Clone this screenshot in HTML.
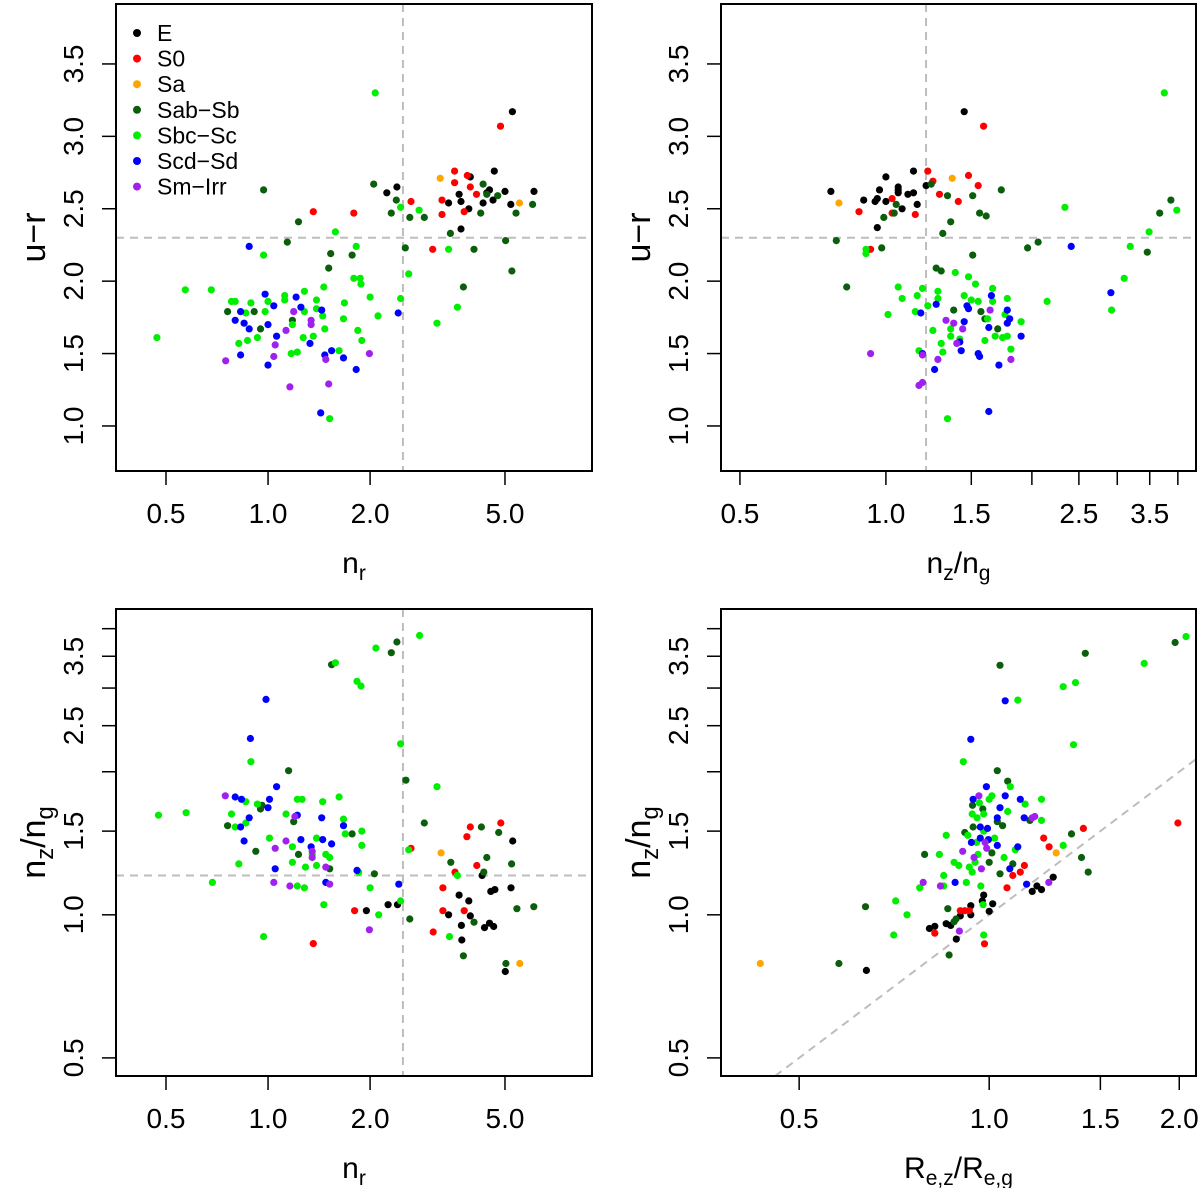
<!DOCTYPE html>
<html><head><meta charset="utf-8"><style>
html,body{margin:0;padding:0;background:#fff;}
svg{display:block;font-family:"Liberation Sans",Arial,sans-serif;}
</style></head><body>
<svg id="fig" width="1200" height="1188" viewBox="0 0 1200 1188" xmlns="http://www.w3.org/2000/svg"></svg>
<script>
// ---------- data (class arrays of [x, y]) ----------
// Panel 1: n_r vs u-r
const p1_E=[[5.26,3.17],[4.65,2.76],[3.95,2.72],[2.24,2.61],[2.40,2.65],[3.66,2.60],[3.41,2.54],[3.71,2.55],[3.91,2.50],[3.71,2.36],[4.50,2.63],[4.31,2.54],[4.61,2.56],[5.0,2.62],[5.20,2.53],[6.09,2.62],[4.42,2.61]];
const p1_S0=[[4.85,3.07],[3.55,2.76],[3.87,2.73],[3.55,2.68],[3.95,2.65],[4.12,2.60],[3.26,2.56],[3.26,2.46],[2.64,2.55],[3.79,2.48],[3.06,2.22],[1.36,2.48],[1.79,2.47]];
const p1_Sa=[[3.22,2.71],[5.52,2.54]];
const p1_Sab=[[0.97,2.63],[2.05,2.67],[2.39,2.56],[2.31,2.47],[2.62,2.44],[2.89,2.44],[2.54,2.23],[3.45,2.33],[4.05,2.22],[3.77,1.96],[5.02,2.28],[5.24,2.07],[4.31,2.67],[4.24,2.47],[4.42,2.60],[4.76,2.59],[5.39,2.47],[6.03,2.53],[1.23,2.41],[1.14,2.27],[1.53,2.19],[1.51,2.09],[1.77,2.18],[0.76,1.79],[0.91,1.79],[0.95,1.67],[1.18,1.73]];
const p1_Sbc=[[2.07,3.30],[2.46,2.51],[2.79,2.49],[1.58,2.34],[1.82,2.24],[0.97,2.18],[3.41,2.22],[2.60,2.05],[1.79,2.02],[1.87,2.02],[1.88,1.98],[1.46,1.96],[1.28,1.93],[1.12,1.90],[0.57,1.94],[0.68,1.94],[0.78,1.86],[0.80,1.86],[0.89,1.85],[1.0,1.86],[1.12,1.87],[1.39,1.87],[1.68,1.85],[2.0,1.89],[2.46,1.88],[0.86,1.78],[0.98,1.79],[1.28,1.79],[1.39,1.81],[1.45,1.76],[1.18,1.70],[1.67,1.74],[2.11,1.76],[3.15,1.71],[3.62,1.82],[0.47,1.61],[1.47,1.67],[1.84,1.66],[0.87,1.59],[0.82,1.57],[0.93,1.61],[1.27,1.61],[1.36,1.62],[1.89,1.59],[1.17,1.50],[1.22,1.51],[1.62,1.52],[1.52,1.05]];
const p1_Scd=[[0.88,2.24],[0.98,1.91],[1.21,1.89],[1.04,1.83],[1.25,1.82],[1.44,1.80],[0.83,1.79],[0.80,1.73],[0.85,1.71],[0.88,1.67],[1.0,1.70],[1.06,1.62],[1.33,1.57],[0.83,1.49],[1.0,1.42],[1.47,1.49],[1.54,1.52],[1.67,1.47],[1.82,1.39],[2.42,1.78],[1.43,1.09]];
const p1_Sm=[[1.19,1.79],[1.34,1.73],[1.34,1.70],[1.13,1.66],[1.05,1.56],[1.04,1.48],[0.75,1.45],[1.48,1.46],[1.99,1.50],[1.16,1.27],[1.51,1.29]];
// Panel 2: nz/ng vs u-r
const p2_E=[[1.45,3.17],[0.77,2.62],[1.0,2.72],[1.14,2.76],[0.97,2.63],[0.90,2.56],[0.95,2.55],[0.96,2.57],[1.0,2.55],[1.06,2.63],[1.06,2.65],[1.06,2.61],[1.11,2.60],[1.14,2.61],[1.16,2.53],[1.08,2.50],[0.96,2.37],[1.21,2.66]];
const p2_S0=[[1.59,3.07],[1.22,2.76],[1.25,2.69],[1.48,2.73],[1.55,2.66],[1.29,2.60],[1.41,2.55],[1.03,2.57],[1.03,2.47],[0.88,2.48],[1.15,2.46],[0.93,2.22]];
const p2_Sa=[[1.37,2.71],[0.80,2.54]];
const p2_Sab=[[1.24,2.67],[1.34,2.59],[1.51,2.59],[1.73,2.63],[1.05,2.53],[1.04,2.47],[0.99,2.44],[1.56,2.47],[1.61,2.45],[1.36,2.41],[1.31,2.33],[0.79,2.28],[0.98,2.23],[1.51,2.18],[1.96,2.23],[2.06,2.27],[1.27,2.09],[1.30,2.07],[0.83,1.96],[3.46,2.20],[3.67,2.47],[3.87,2.56],[1.38,1.80],[1.57,1.79],[1.60,1.74],[1.70,1.67]];
const p2_Sbc=[[3.75,3.30],[2.34,2.51],[3.98,2.49],[3.49,2.34],[3.19,2.24],[3.10,2.02],[2.92,1.80],[2.15,1.86],[0.91,2.22],[0.91,2.19],[1.39,2.06],[1.48,2.03],[1.53,1.98],[1.06,1.96],[1.19,1.95],[1.28,1.93],[1.66,1.95],[1.08,1.88],[1.16,1.90],[1.28,1.88],[1.45,1.90],[1.50,1.87],[1.55,1.86],[1.66,1.86],[1.78,1.88],[1.22,1.83],[1.15,1.79],[1.01,1.77],[1.62,1.74],[1.76,1.77],[1.90,1.72],[1.25,1.66],[1.36,1.67],[1.36,1.62],[1.42,1.60],[1.60,1.59],[1.68,1.62],[1.74,1.61],[1.78,1.62],[1.30,1.57],[1.17,1.52],[1.31,1.51],[1.81,1.53],[1.34,1.05]];
const p2_Scd=[[2.41,2.24],[2.91,1.92],[1.65,1.90],[1.27,1.84],[1.47,1.83],[1.48,1.81],[1.78,1.80],[1.18,1.78],[1.80,1.74],[1.45,1.72],[1.78,1.71],[1.63,1.68],[1.90,1.62],[1.42,1.58],[1.43,1.52],[1.19,1.50],[1.55,1.50],[1.56,1.48],[1.71,1.42],[1.26,1.39],[1.63,1.10]];
const p2_Sm=[[1.64,1.80],[1.33,1.73],[1.38,1.71],[1.44,1.67],[1.40,1.57],[1.19,1.49],[1.28,1.46],[1.81,1.46],[0.93,1.50],[1.17,1.28],[1.19,1.30]];
// Panel 3: n_r vs nz/ng
const p3_E=[[5.27,1.43],[4.28,1.21],[5.21,1.14],[4.54,1.12],[4.67,1.13],[3.66,1.10],[3.91,1.07],[3.41,1.00],[3.95,0.995],[3.72,0.95],[4.50,0.96],[4.35,0.94],[4.63,0.945],[3.73,0.885],[5.01,0.76],[1.95,1.02],[2.26,1.05],[2.41,1.05]];
const p3_S0=[[4.86,1.56],[3.95,1.53],[3.86,1.46],[4.13,1.27],[3.56,1.23],[3.28,1.14],[2.64,1.38],[3.28,1.02],[3.79,1.02],[3.07,0.92],[1.80,1.02],[1.36,0.87]];
const p3_Sa=[[3.24,1.35],[5.53,0.79]];
const p3_Sab=[[2.40,3.75],[2.31,3.56],[1.54,3.36],[1.15,2.01],[2.55,1.92],[2.89,1.56],[0.96,1.70],[0.95,1.67],[0.76,1.54],[1.19,1.57],[1.77,1.48],[0.92,1.36],[1.23,1.34],[1.52,1.25],[2.06,1.22],[3.46,1.29],[4.26,1.53],[4.79,1.49],[4.42,1.32],[5.23,1.28],[4.33,1.23],[5.42,1.03],[6.08,1.04],[4.05,0.965],[2.62,0.98],[3.77,0.82],[5.03,0.79]];
const p3_Sbc=[[2.80,3.87],[2.08,3.64],[1.58,3.39],[1.83,3.10],[1.88,3.03],[2.46,2.29],[0.89,2.10],[3.15,1.86],[0.475,1.62],[0.573,1.64],[0.86,1.73],[0.93,1.71],[0.78,1.63],[0.80,1.53],[0.86,1.56],[1.01,1.45],[1.13,1.63],[1.22,1.75],[1.26,1.75],[1.45,1.73],[1.62,1.77],[1.67,1.59],[1.69,1.48],[1.89,1.50],[1.89,1.40],[1.39,1.45],[1.18,1.39],[1.18,1.29],[1.29,1.26],[1.39,1.27],[1.48,1.34],[1.52,1.32],[1.35,1.34],[0.82,1.28],[0.685,1.17],[1.22,1.15],[1.28,1.14],[1.46,1.05],[2.0,1.14],[2.12,1.00],[2.46,1.07],[2.60,1.37],[1.85,1.23],[3.62,1.21],[3.43,0.90],[0.97,0.90]];
const p3_Scd=[[0.986,2.84],[0.887,2.35],[1.06,1.86],[0.80,1.77],[0.835,1.75],[1.01,1.75],[1.0,1.68],[0.88,1.60],[0.83,1.53],[0.85,1.43],[1.22,1.62],[1.44,1.60],[1.67,1.54],[1.25,1.44],[1.45,1.44],[1.34,1.39],[1.54,1.41],[1.05,1.25],[1.83,1.24],[1.48,1.17],[2.43,1.16]];
const p3_Sm=[[0.748,1.78],[1.20,1.61],[1.13,1.43],[1.05,1.38],[1.35,1.36],[1.35,1.32],[1.48,1.26],[1.52,1.16],[1.04,1.17],[1.16,1.15],[1.99,0.93]];
// Panel 4: Rez/Reg vs nz/ng
const p4_E=[[1.263,1.20],[1.17,1.12],[1.19,1.15],[1.21,1.13],[0.98,1.10],[0.975,1.07],[1.013,1.055],[0.935,1.045],[1.0,1.017],[0.90,0.995],[0.935,1.0],[0.855,0.958],[0.869,0.95],[0.82,0.946],[0.804,0.936],[0.887,0.889],[0.639,0.764]];
const p4_S0=[[1.99,1.56],[1.41,1.52],[1.22,1.45],[1.244,1.39],[1.137,1.27],[1.12,1.23],[1.09,1.21],[1.067,1.14],[0.90,1.02],[0.915,1.02],[0.93,1.02],[0.82,0.915],[0.983,0.869]];
const p4_Sa=[[1.277,1.35],[0.434,0.79]];
const p4_Sab=[[1.97,3.74],[1.42,3.55],[1.04,3.35],[1.03,2.01],[1.07,1.91],[0.941,1.70],[0.977,1.67],[1.03,1.57],[1.16,1.58],[1.05,1.54],[0.943,1.53],[0.915,1.49],[1.35,1.48],[1.01,1.35],[0.79,1.34],[1.40,1.32],[1.0,1.29],[1.09,1.28],[1.04,1.22],[1.435,1.23],[0.637,1.04],[0.86,1.03],[0.886,0.98],[0.88,0.967],[0.864,0.823],[0.578,0.79]];
const p4_Sbc=[[2.05,3.85],[1.76,3.38],[1.37,3.08],[1.31,3.02],[1.11,2.83],[1.36,2.28],[0.91,2.10],[1.08,1.86],[1.01,1.78],[1.0,1.75],[0.965,1.72],[1.14,1.71],[1.21,1.75],[0.94,1.63],[0.98,1.63],[1.07,1.65],[0.957,1.60],[0.98,1.50],[1.21,1.58],[0.855,1.47],[0.925,1.47],[0.955,1.42],[1.02,1.45],[1.31,1.40],[0.834,1.34],[0.96,1.34],[1.056,1.32],[1.10,1.37],[0.88,1.29],[0.895,1.27],[0.93,1.26],[0.95,1.29],[0.94,1.23],[0.847,1.21],[0.92,1.17],[0.97,1.15],[0.776,1.14],[0.847,1.15],[0.711,1.07],[0.741,1.0],[0.978,1.05],[0.706,0.907],[0.98,0.907]];
const p4_Scd=[[1.06,2.82],[0.935,2.34],[0.99,1.86],[1.06,1.78],[0.943,1.75],[1.12,1.75],[1.04,1.68],[1.03,1.60],[1.136,1.60],[0.968,1.53],[0.994,1.52],[0.968,1.45],[0.997,1.44],[0.937,1.42],[1.03,1.40],[1.11,1.39],[1.078,1.25],[0.883,1.17],[1.146,1.16]];
const p4_Sm=[[0.963,1.78],[0.985,1.42],[0.991,1.38],[1.181,1.61],[1.17,1.60],[0.908,1.36],[0.946,1.32],[0.972,1.25],[0.786,1.17],[0.837,1.15],[1.243,1.17],[0.897,0.924]];

const classNames=["E","S0","Sa","Sab-Sb","Sbc-Sc","Scd-Sd","Sm-Irr"];
const classColors=["#000000","#ff0000","#ffa500","#0b5e0b","#00ee00","#0000ff","#a020f0"];
const ticksLin1=[1.0,1.5,2.0,2.5,3.0,3.5];
const ticksNr=[0.5,1.0,2.0,5.0];
const ticksRatio=[0.5,1.0,1.5,2.0,2.5,3.0,3.5,4.0];
const labelsRatio=["0.5","1.0","1.5","","2.5","","3.5",""];
const ticksRe=[0.5,1.0,1.5,2.0];

const NS="http://www.w3.org/2000/svg";
const svg=document.getElementById('fig');
function mk(tag,attrs,parent){const e=document.createElementNS(NS,tag);for(const k in attrs)e.setAttribute(k,attrs[k]);(parent||svg).appendChild(e);return e;}
function scale(log,min,max,a,b){return v=>{const t=log?(Math.log10(v)-Math.log10(min))/(Math.log10(max)-Math.log10(min)):(v-min)/(max-min);return a+t*(b-a);};}

function panel(cfg){
  const g=mk('g',{});
  
  
  const X=scale(cfg.xlog,cfg.xmin,cfg.xmax,cfg.L,cfg.L+cfg.W);
  const Y=scale(cfg.ylog,cfg.ymin,cfg.ymax,cfg.T+cfg.H,cfg.T);
  const B=cfg.T+cfg.H;
  if(cfg.vline!=null){const l=mk('line',{x1:X(cfg.vline),x2:X(cfg.vline),y1:cfg.T,y2:B,stroke:'#bdbdbd','stroke-width':2,'stroke-dasharray':'8,6'},g);
    }
  if(cfg.hline!=null){const l=mk('line',{x1:cfg.L,x2:cfg.L+cfg.W,y1:Y(cfg.hline),y2:Y(cfg.hline),stroke:'#bdbdbd','stroke-width':2,'stroke-dasharray':'8,6'},g);
    }
  if(cfg.diag){const x0=cfg.xmin>cfg.ymin?cfg.xmin:cfg.ymin, x1=Math.min(cfg.xmax,cfg.ymax);
    const l=mk('line',{x1:X(x0),y1:Y(x0),x2:X(x1),y2:Y(x1),stroke:'#bdbdbd','stroke-width':2,'stroke-dasharray':'8,6'},g);
    }
  cfg.series.forEach((pts,ci)=>{
    const sg=mk('g',{fill:classColors[ci]},g);
    
    
    pts.forEach(p=>{const c=mk('circle',{cx:X(p[0]).toFixed(1),cy:Y(p[1]).toFixed(1),r:3.6},sg);
      
      });
  });
  const fr=mk('rect',{x:cfg.L,y:cfg.T,width:cfg.W,height:cfg.H,fill:'none',stroke:'#000','stroke-width':2},g);
  
  const xa=mk('g',{},g);
  cfg.xticks.forEach((v,i)=>{const x=X(v);if(x>cfg.L+cfg.W+0.5)return;mk('line',{x1:x,x2:x,y1:B,y2:B+14,stroke:'#000','stroke-width':1.5},xa);
    const lab=cfg.xlabels[i];if(lab){const t=mk('text',{x:x,y:B+52,'font-size':28,'text-anchor':'middle'},xa);t.textContent=lab;
      }});
  const ya=mk('g',{},g);
  cfg.yticks.forEach((v,i)=>{const y=Y(v);if(y<cfg.T-0.5)return;mk('line',{x1:cfg.L-14,x2:cfg.L,y1:y,y2:y,stroke:'#000','stroke-width':1.5},ya);
    const lab=cfg.ylabels[i];if(lab){const bx=cfg.L-33;const t=mk('text',{x:bx,y:y,'font-size':28,'text-anchor':'middle',transform:`rotate(-90 ${bx} ${y})`},ya);t.textContent=lab;
      }});
  const xt=mk('text',{x:cfg.L+cfg.W/2,y:B+102,'font-size':30,'text-anchor':'middle'},g);xt.innerHTML=cfg.xtitle;
  
  const yx=cfg.L-71, yy=cfg.T+cfg.H/2;
  const yt=mk('text',{x:yx,y:yy,'font-size':34,'text-anchor':'middle',transform:`rotate(-90 ${yx} ${yy})`},g);yt.innerHTML=cfg.ytitle;
  
  return g;
}
const sub=(a,b)=>`${a}<tspan font-size="0.7em" dy="7">${b}</tspan>`;
const nzng=`n<tspan font-size="0.7em" dy="8">z</tspan><tspan dy="-8">/n</tspan><tspan font-size="0.7em" dy="8">g</tspan>`;
const nzngX=`n<tspan font-size="0.7em" dy="7">z</tspan><tspan dy="-7">/n</tspan><tspan font-size="0.7em" dy="7">g</tspan>`;
const reX=`R<tspan font-size="0.7em" dy="7">e,z</tspan><tspan dy="-7">/R</tspan><tspan font-size="0.7em" dy="7">e,g</tspan>`;
const linLabels=ticksLin1.map(v=>v.toFixed(1));
const nrLabels=ticksNr.map(v=>v.toFixed(1));

panel({name:'panel-nr-vs-ur',L:116,T:4,W:476,H:467,xlog:true,xmin:0.356,xmax:9.03,ylog:false,ymin:0.689,ymax:3.914,
  vline:2.5,hline:2.3,xticks:ticksNr,xlabels:nrLabels,yticks:ticksLin1,ylabels:linLabels,
  xtitle:sub('n','r'),ytitle:'u\u2212r',series:[p1_E,p1_S0,p1_Sa,p1_Sab,p1_Sbc,p1_Scd,p1_Sm]});
panel({name:'panel-ratio-vs-ur',L:721,T:4,W:475,H:467,xlog:true,xmin:0.457,xmax:4.36,ylog:false,ymin:0.689,ymax:3.914,
  vline:1.21,hline:2.3,xticks:ticksRatio,xlabels:labelsRatio,yticks:ticksLin1,ylabels:linLabels,
  xtitle:nzngX,ytitle:'u\u2212r',series:[p2_E,p2_S0,p2_Sa,p2_Sab,p2_Sbc,p2_Scd,p2_Sm]});
panel({name:'panel-nr-vs-ratio',L:116,T:609,W:476,H:467,xlog:true,xmin:0.356,xmax:9.03,ylog:true,ymin:0.458,ymax:4.40,
  vline:2.5,hline:1.21,xticks:ticksNr,xlabels:nrLabels,yticks:ticksRatio,ylabels:labelsRatio,
  xtitle:sub('n','r'),ytitle:nzng,series:[p3_E,p3_S0,p3_Sa,p3_Sab,p3_Sbc,p3_Scd,p3_Sm]});
panel({name:'panel-re-vs-ratio',L:721,T:609,W:475,H:467,xlog:true,xmin:0.376,xmax:2.126,ylog:true,ymin:0.458,ymax:4.40,
  diag:true,xticks:ticksRe,xlabels:ticksRe.map(v=>v.toFixed(1)),yticks:ticksRatio,ylabels:labelsRatio,
  xtitle:reX,ytitle:nzng,series:[p4_E,p4_S0,p4_Sa,p4_Sab,p4_Sbc,p4_Scd,p4_Sm]});

const lg=mk('g',{});


classNames.forEach((n,i)=>{
  const y=33+i*25.6;
  const e=mk('g',{},lg);
  
  
  mk('circle',{cx:137,cy:y,r:4,fill:classColors[i]},e);
  const t=mk('text',{x:157,y:y+8,'font-size':23},e);t.textContent=n.replace('-','\u2212');
});
</script>
</body></html>
